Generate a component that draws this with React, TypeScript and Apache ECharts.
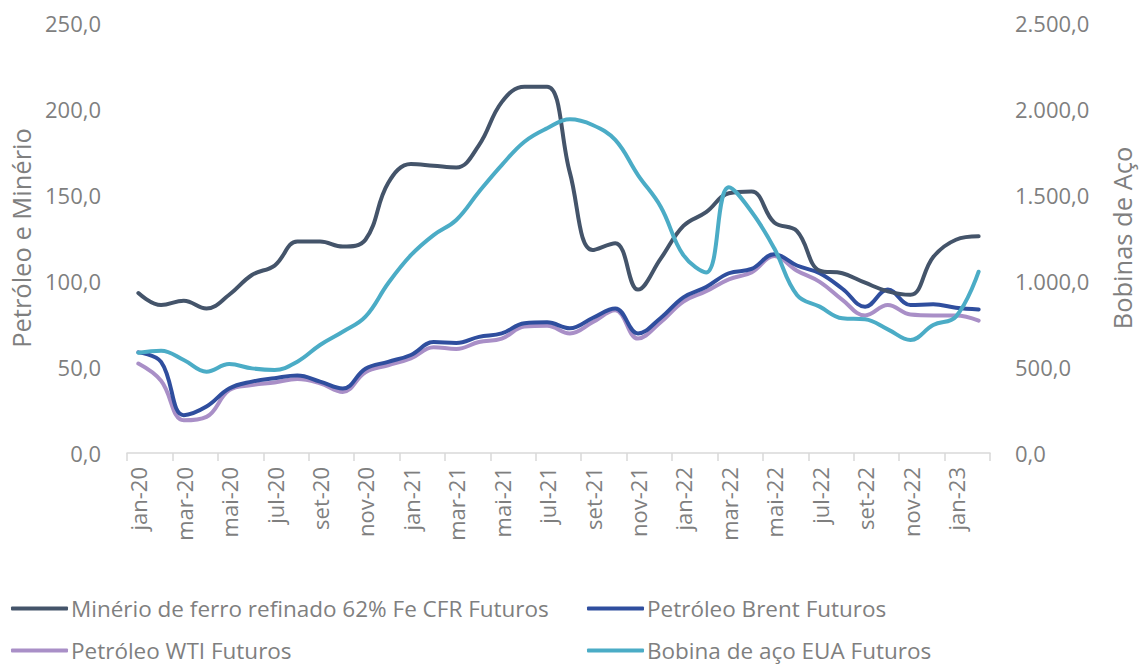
import React, { useEffect, useRef } from "react";
import * as echarts from "echarts";

const months = ["jan", "fev", "mar", "abr", "mai", "jun", "jul", "ago", "set", "out", "nov", "dez"];
const categories: string[] = [];
for (let y = 20; y <= 23; y++) {
  for (let m = 0; m < 12; m++) {
    if (y === 23 && m > 1) break;
    categories.push(`${months[m]}-${y}`);
  }
}

const ironOre = [93, 86, 88.5, 84, 92, 103.5, 109, 123, 123, 120, 124, 157, 168, 167, 166, 179, 204, 213, 213, 163, 118, 122, 95, 113, 132, 140, 151, 152, 134, 129, 106, 104.5, 99, 94, 92, 114, 124, 126];
const brent = [58.5, 53, 22, 27, 37.5, 41.5, 43.5, 45, 41.5, 37.5, 49, 53, 57, 64.5, 64, 67.5, 69.5, 75.5, 76, 72.5, 78.5, 84, 69.5, 78.5, 90.5, 96.5, 104.5, 107, 115.5, 109, 104.5, 95.5, 85, 95, 86, 86.5, 84.5, 83.5];
const wti = [52, 42, 19, 21, 36.5, 39.5, 41, 43, 40.5, 35.5, 47, 51, 55, 61.5, 60.5, 64.5, 66.5, 73.5, 74, 69.5, 76, 83, 66.5, 76, 88, 94, 101, 105, 114.5, 106, 99.5, 89, 80, 86, 80.5, 80, 80, 77];
const steelCoil = [583, 595, 541, 473, 517, 492, 483, 531, 628, 705, 793, 987, 1150, 1267, 1355, 1519, 1674, 1810, 1888, 1940, 1907, 1820, 1616, 1432, 1150, 1050, 1545, 1403, 1190, 919, 851, 783, 777, 719, 657, 744, 793, 1054];

const leftTicks = { min: 0, max: 250, interval: 50 };
const rightTicks = { min: 0, max: 2500, interval: 500 };

const seriesNames = [
  "Minério de ferro refinado 62% Fe CFR Futuros",
  "Petróleo Brent Futuros",
  "Petróleo WTI Futuros",
  "Bobina de aço EUA Futuros",
];
const colors = ["#44546A", "#2F4E9E", "#A98FC7", "#4BACC6"];

const FONT = "'Open Sans', sans-serif";
const GRAY = "#7F7F7F";

function fmt(v: number): string {
  const parts = v.toFixed(1).split(".");
  const intPart = parts[0].replace(/\B(?=(\d{3})+(?!\d))/g, ".");
  return `${intPart},${parts[1]}`;
}

export default function App() {
  const ref = useRef<HTMLDivElement>(null);
  useEffect(() => {
    if (!ref.current) return;
    const chart = echarts.init(ref.current, undefined, { renderer: "svg" });
    const legendPos = [
      { left: 11, top: 597 },
      { left: 587, top: 597 },
      { left: 11, top: 639 },
      { left: 587, top: 639 },
    ];
    chart.setOption({
      animation: false,
      color: colors,
      grid: { left: 126, right: 145, top: 23, bottom: 212, containLabel: false },
      legend: seriesNames.map((n, i) => ({
        data: [n],
        left: legendPos[i].left,
        top: legendPos[i].top,
        icon: "roundRect",
        itemWidth: 57,
        itemHeight: 4,
        itemGap: 4,
        padding: 0,
        selectedMode: false,
        textStyle: { fontFamily: FONT, fontSize: 22.5, lineHeight: 23, color: GRAY, padding: [0, 0, 0, -2] },
      })),
      xAxis: {
        type: "category",
        data: categories,
        boundaryGap: true,
        axisLine: { lineStyle: { color: "#D9D9D9", width: 1.5 } },
        axisTick: { show: true, interval: 1, length: 8, lineStyle: { color: "#D9D9D9", width: 1.5 } },
        axisLabel: { interval: 1, rotate: 90, margin: 14, fontFamily: FONT, fontSize: 22, color: GRAY },
        splitLine: { show: false },
      },
      yAxis: [
        {
          type: "value",
          ...leftTicks,
          name: "Petróleo e Minério",
          nameLocation: "middle",
          nameGap: 93,
          nameTextStyle: { fontFamily: FONT, fontSize: 25.5, color: GRAY },
          axisLine: { show: false },
          axisTick: { show: false },
          splitLine: { show: false },
          axisLabel: { margin: 26, fontFamily: FONT, fontSize: 22, color: GRAY, formatter: (v: number) => fmt(v) },
        },
        {
          type: "value",
          ...rightTicks,
          name: "Bobinas de Aço",
          nameLocation: "middle",
          nameGap: 119,
          nameRotate: 90,
          nameTextStyle: { fontFamily: FONT, fontSize: 25.5, color: GRAY },
          axisLine: { show: false },
          axisTick: { show: false },
          splitLine: { show: false },
          axisLabel: { margin: 25, fontFamily: FONT, fontSize: 22, color: GRAY, formatter: (v: number) => fmt(v) },
        },
      ],
      series: [
        { name: seriesNames[0], data: ironOre, yAxisIndex: 0 },
        { name: seriesNames[1], data: brent, yAxisIndex: 0 },
        { name: seriesNames[2], data: wti, yAxisIndex: 0 },
        { name: seriesNames[3], data: steelCoil, yAxisIndex: 1 },
      ].map((s, i) => ({
        ...s,
        type: "line",
        smooth: 0.4,
        showSymbol: false,
        symbol: "none",
        z: i === 2 ? 1 : i === 1 ? 2 : 3,
        lineStyle: { width: 4, color: colors[i], cap: "round", join: "round" },
      })),
    });
    return () => chart.dispose();
  }, []);
  return <div ref={ref} style={{ width: 1143, height: 665, position: "absolute", left: 0, top: 0, background: "#fff" }} />;
}
